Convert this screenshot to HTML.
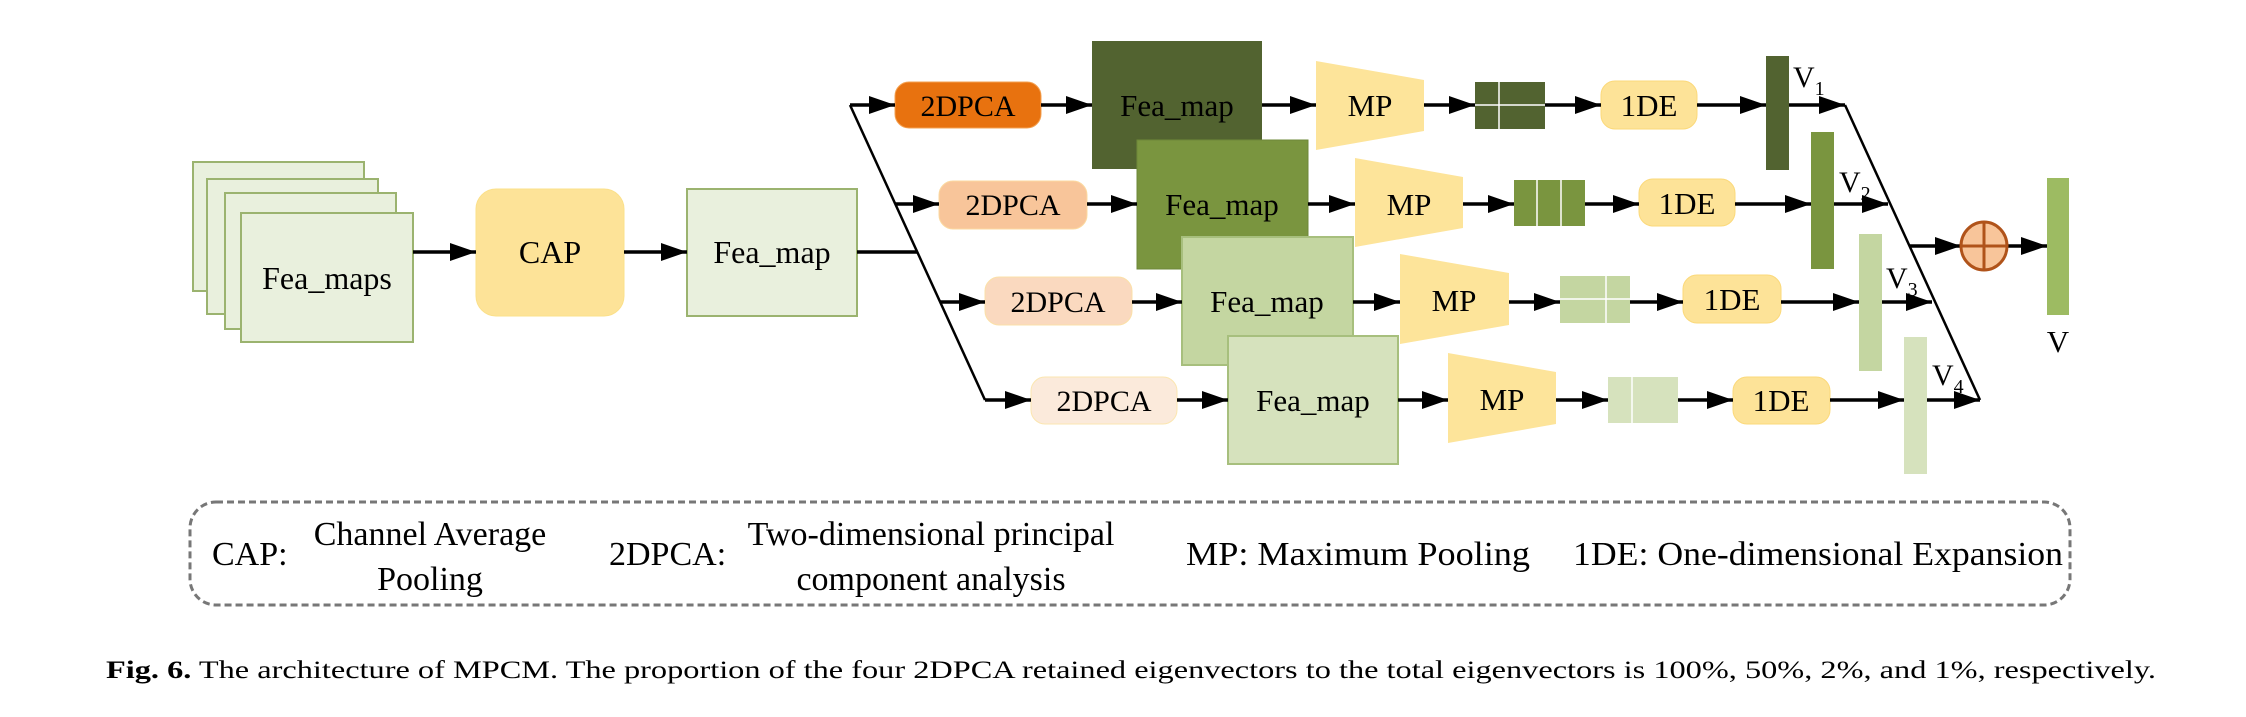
<!DOCTYPE html>
<html><head><meta charset="utf-8"><style>
html,body{margin:0;padding:0;background:#fff;}
svg{display:block;}
text{font-family:"Liberation Serif",serif;}
</style></head><body>
<svg width="2246" height="717" viewBox="0 0 2246 717" xmlns="http://www.w3.org/2000/svg">
<defs>
<marker id="a" markerUnits="userSpaceOnUse" markerWidth="26" markerHeight="18" refX="26" refY="9" orient="auto"><path d="M0,0 L26,9 L0,18 Z" fill="#000"/></marker>
</defs>
<g stroke="#9bb36f" stroke-width="2" fill="#e9f0dd">
<rect x="193" y="162" width="171" height="129"/>
<rect x="207" y="179" width="171" height="135"/>
<rect x="225" y="193" width="171" height="136"/>
<rect x="241" y="213" width="172" height="129"/>
<rect x="687" y="189" width="170" height="127"/>
</g>
<rect x="476" y="189" width="148" height="127" rx="20" fill="#fde398" stroke="#fbe08a"/>
<g font-size="32" text-anchor="middle" fill="#000">
<text x="327" y="289">Fea_maps</text>
<text x="550" y="263">CAP</text>
<text x="772" y="263">Fea_map</text>
</g>
<g stroke="#000" stroke-width="3.5" fill="none">
<line x1="413" y1="252" x2="476" y2="252" marker-end="url(#a)"/>
<line x1="624" y1="252" x2="687" y2="252" marker-end="url(#a)"/>
<line x1="857" y1="252" x2="917" y2="252"/>
</g>
<polyline points="850,105 985,400" stroke="#000" stroke-width="2.5" fill="none"/>
<polyline points="1845,105 1980,400" stroke="#000" stroke-width="2.5" fill="none"/>
<!-- feature maps -->
<rect x="1092" y="41" width="170" height="128" fill="#526330"/>
<rect x="1137" y="140" width="171" height="129" fill="#7a953f" stroke="#6d8838"/>
<rect x="1182" y="237" width="171" height="128" fill="#c4d6a1" stroke="#a7bf7d" stroke-width="2"/>
<rect x="1228" y="336" width="170" height="128" fill="#d6e2bd" stroke="#a7bf7d" stroke-width="2"/>
<!-- 2DPCA -->
<rect x="895" y="82" width="146" height="46" rx="14" fill="#e8720f" stroke="#f3a050"/>
<rect x="939" y="181" width="148" height="48" rx="14" fill="#f8c59a" stroke="#fbd9a0"/>
<rect x="985" y="277" width="147" height="48" rx="14" fill="#fad9bf" stroke="#fbe0a8"/>
<rect x="1031" y="377" width="146" height="47" rx="14" fill="#fbeadb" stroke="#fbe6b0"/>
<!-- MP -->
<g fill="#fde49a">
<polygon points="1316,61 1424,80 1424,131 1316,150"/>
<polygon points="1355,158 1463,177 1463,228 1355,247"/>
<polygon points="1400,254 1509,273 1509,325 1400,344"/>
<polygon points="1448,353 1556,372 1556,424 1448,443"/>
</g>
<!-- grids -->
<rect x="1475" y="82" width="70" height="47" fill="#526330"/>
<line x1="1499" y1="82" x2="1499" y2="129" stroke="#fff" stroke-width="1.5"/>
<line x1="1475" y1="105" x2="1545" y2="105" stroke="#fff" stroke-width="1.5"/>
<rect x="1514" y="180" width="71" height="46" fill="#7a953f"/>
<line x1="1537" y1="180" x2="1537" y2="226" stroke="#fff" stroke-width="1.5"/>
<line x1="1561" y1="180" x2="1561" y2="226" stroke="#fff" stroke-width="1.5"/>
<rect x="1560" y="276" width="70" height="47" fill="#c4d6a1"/>
<line x1="1606" y1="276" x2="1606" y2="323" stroke="#fff" stroke-width="1.5"/>
<line x1="1560" y1="299" x2="1630" y2="299" stroke="#fff" stroke-width="1.5"/>
<rect x="1608" y="377" width="70" height="46" fill="#d6e2bd"/>
<line x1="1632" y1="377" x2="1632" y2="423" stroke="#fff" stroke-width="1.5"/>
<!-- 1DE -->
<g fill="#fde398" stroke="#fbd97a">
<rect x="1601" y="81" width="96" height="48" rx="14"/>
<rect x="1639" y="179" width="96" height="47" rx="14"/>
<rect x="1683" y="275" width="98" height="48" rx="14"/>
<rect x="1733" y="377" width="97" height="47" rx="14"/>
</g>
<!-- bars -->
<rect x="1766" y="56" width="23" height="114" fill="#526330"/>
<rect x="1811" y="132" width="23" height="137" fill="#7a953f"/>
<rect x="1859" y="234" width="23" height="137" fill="#c4d6a1"/>
<rect x="1904" y="337" width="23" height="137" fill="#d6e2bd"/>
<rect x="2047" y="178" width="22" height="137" fill="#9dbb62"/>
<!-- text -->
<g font-size="30" text-anchor="middle" fill="#000">
<text x="968" y="116">2DPCA</text>
<text x="1013" y="215">2DPCA</text>
<text x="1058" y="312">2DPCA</text>
<text x="1104" y="411">2DPCA</text>
</g>
<g font-size="31" text-anchor="middle" fill="#000">
<text x="1177" y="116">Fea_map</text>
<text x="1222" y="215">Fea_map</text>
<text x="1267" y="312">Fea_map</text>
<text x="1313" y="411">Fea_map</text>
<text x="1370" y="116">MP</text>
<text x="1409" y="215">MP</text>
<text x="1454" y="311">MP</text>
<text x="1502" y="410">MP</text>
<text x="1649" y="116">1DE</text>
<text x="1687" y="214">1DE</text>
<text x="1732" y="310">1DE</text>
<text x="1781" y="411">1DE</text>
<text x="2058" y="352">V</text>
</g>
<g font-size="30" fill="#000">
<text x="1793" y="87">V<tspan font-size="20" dy="8">1</tspan></text>
<text x="1839" y="192">V<tspan font-size="20" dy="8">2</tspan></text>
<text x="1886" y="288">V<tspan font-size="20" dy="8">3</tspan></text>
<text x="1932" y="385">V<tspan font-size="20" dy="8">4</tspan></text>
</g>
<!-- arrows -->
<g stroke="#000" stroke-width="3.5" fill="none" marker-end="url(#a)">
<line x1="850" y1="105" x2="895" y2="105"/>
<line x1="1041" y1="105" x2="1092" y2="105"/>
<line x1="1262" y1="105" x2="1316" y2="105"/>
<line x1="1424" y1="105" x2="1475" y2="105"/>
<line x1="1545" y1="105" x2="1601" y2="105"/>
<line x1="1697" y1="105" x2="1766" y2="105"/>
<line x1="1789" y1="105" x2="1845" y2="105"/>

<line x1="895" y1="204" x2="939" y2="204"/>
<line x1="1087" y1="204" x2="1137" y2="204"/>
<line x1="1308" y1="204" x2="1355" y2="204"/>
<line x1="1463" y1="204" x2="1514" y2="204"/>
<line x1="1585" y1="204" x2="1639" y2="204"/>
<line x1="1735" y1="204" x2="1811" y2="204"/>
<line x1="1834" y1="204" x2="1888" y2="204"/>

<line x1="940" y1="302" x2="985" y2="302"/>
<line x1="1132" y1="302" x2="1182" y2="302"/>
<line x1="1353" y1="302" x2="1400" y2="302"/>
<line x1="1509" y1="302" x2="1560" y2="302"/>
<line x1="1630" y1="302" x2="1683" y2="302"/>
<line x1="1781" y1="302" x2="1859" y2="302"/>
<line x1="1882" y1="302" x2="1932" y2="302"/>

<line x1="985" y1="400" x2="1031" y2="400"/>
<line x1="1177" y1="400" x2="1228" y2="400"/>
<line x1="1398" y1="400" x2="1448" y2="400"/>
<line x1="1556" y1="400" x2="1608" y2="400"/>
<line x1="1678" y1="400" x2="1733" y2="400"/>
<line x1="1830" y1="400" x2="1904" y2="400"/>
<line x1="1927" y1="400" x2="1980" y2="400"/>

<line x1="1910" y1="246" x2="1961" y2="246"/>
<line x1="2007" y1="246" x2="2047" y2="246"/>
</g>
<!-- oplus -->
<ellipse cx="1984" cy="246" rx="23" ry="24" fill="#f8c59a" stroke="#b0531a" stroke-width="3"/>
<line x1="1961" y1="246" x2="2007" y2="246" stroke="#b0531a" stroke-width="3"/>
<line x1="1984" y1="222" x2="1984" y2="270" stroke="#b0531a" stroke-width="3"/>
<!-- legend -->
<rect x="190" y="502" width="1880" height="103" rx="26" fill="none" stroke="#777" stroke-width="3" stroke-dasharray="7,4"/>
<g font-size="34" fill="#000">
<text x="212" y="565">CAP:</text>
<text x="430" y="545" text-anchor="middle">Channel Average</text>
<text x="430" y="590" text-anchor="middle">Pooling</text>
<text x="609" y="565">2DPCA:</text>
<text x="931" y="545" text-anchor="middle">Two-dimensional principal</text>
<text x="931" y="590" text-anchor="middle">component analysis</text>
<text x="1186" y="565" textLength="344" lengthAdjust="spacingAndGlyphs">MP: Maximum Pooling</text>
<text x="1573" y="565" textLength="490" lengthAdjust="spacingAndGlyphs">1DE: One-dimensional Expansion</text>
</g>
<text x="106" y="678" font-size="25" fill="#000" textLength="2050" lengthAdjust="spacingAndGlyphs"><tspan font-weight="bold">Fig. 6.</tspan>  The architecture of MPCM. The proportion of the four 2DPCA retained eigenvectors to the total eigenvectors is 100%, 50%, 2%, and 1%, respectively.</text>
</svg>
</body></html>
